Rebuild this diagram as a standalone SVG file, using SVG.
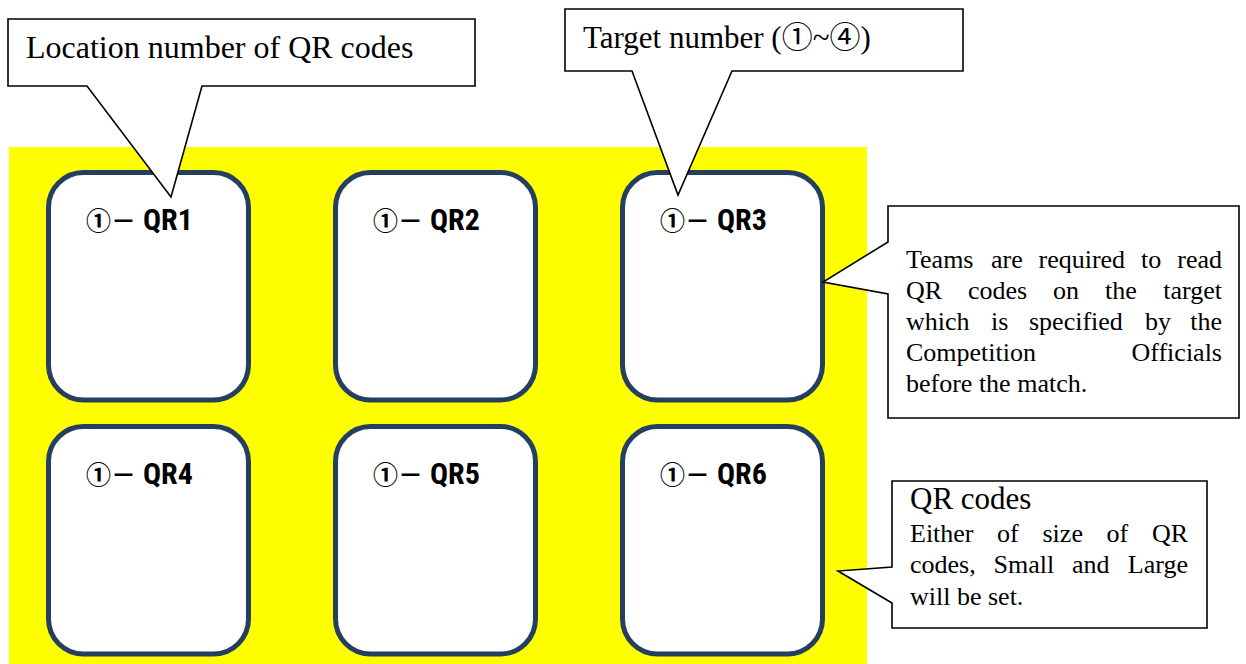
<svg xmlns="http://www.w3.org/2000/svg" width="1246" height="664" viewBox="0 0 1246 664">
  <style>
    .card { fill: #ffffff; stroke: #243f60; stroke-width: 5; }
    .tag { font-weight: 700; fill: #000000; }
    .callout { fill: #ffffff; stroke: #000000; stroke-width: 1.6; stroke-linejoin: miter; }
    .note { font-size: 26px; fill: #000000; }
    .head { fill: #000000; }
    .end { text-anchor: end; }
  </style>

  <rect x="9" y="147" width="858" height="517" fill="#ffff00"/>

  <!-- QR card targets -->
  <g font-family="'Roboto Condensed', 'Noto Sans CJK JP', sans-serif">
    <g id="qr1">
      <rect class="card" x="48.5" y="172.5" width="200" height="227.5" rx="35"/>
      <text class="tag" x="86" y="230"><tspan font-size="25">①－</tspan><tspan x="143" font-size="30">QR1</tspan></text>
    </g>
    <g id="qr2">
      <rect class="card" x="335.5" y="172.5" width="200" height="227.5" rx="35"/>
      <text class="tag" x="373" y="230"><tspan font-size="25">①－</tspan><tspan x="430" font-size="30">QR2</tspan></text>
    </g>
    <g id="qr3">
      <rect class="card" x="622.5" y="172.5" width="200" height="227.5" rx="35"/>
      <text class="tag" x="660" y="230"><tspan font-size="25">①－</tspan><tspan x="717" font-size="30">QR3</tspan></text>
    </g>
    <g id="qr4">
      <rect class="card" x="48.5" y="426.5" width="200" height="227.5" rx="35"/>
      <text class="tag" x="86" y="484"><tspan font-size="25">①－</tspan><tspan x="143" font-size="30">QR4</tspan></text>
    </g>
    <g id="qr5">
      <rect class="card" x="335.5" y="426.5" width="200" height="227.5" rx="35"/>
      <text class="tag" x="373" y="484"><tspan font-size="25">①－</tspan><tspan x="430" font-size="30">QR5</tspan></text>
    </g>
    <g id="qr6">
      <rect class="card" x="622.5" y="426.5" width="200" height="227.5" rx="35"/>
      <text class="tag" x="660" y="484"><tspan font-size="25">①－</tspan><tspan x="717" font-size="30">QR6</tspan></text>
    </g>
  </g>

  <!-- Callout balloons with their pointer tails; body text is justified word by word -->
  <g id="connectors" font-family="'Liberation Serif', 'Noto Sans CJK JP', serif">
    <g id="callout-location">
      <polygon class="callout" points="8,19 475,19 475,86 202,86 171,197 87,86 8,86"/>
      <text class="head" x="26" y="58" font-size="32">Location number of QR codes</text>
    </g>
    <g id="callout-target">
      <polygon class="callout" points="565,9 963,9 963,71 732,71 678,195 632,71 565,71"/>
      <text class="head" x="583" y="48" font-size="31">Target number (①~④)</text>
    </g>
    <g id="callout-teams">
      <polygon class="callout" points="888,206 1239,206 1239,418 888,418 888,294 823,282 888,242"/>
      <text class="note" y="268"><tspan x="906">Teams</tspan> <tspan x="991">are</tspan> <tspan x="1038.5">required</tspan> <tspan x="1141">to</tspan> <tspan class="end" x="1222">read</tspan></text>
      <text class="note" y="299"><tspan x="906">QR</tspan> <tspan x="968">codes</tspan> <tspan x="1053">on</tspan> <tspan x="1105">the</tspan> <tspan class="end" x="1222">target</tspan></text>
      <text class="note" y="330"><tspan x="906">which</tspan> <tspan x="991">is</tspan> <tspan x="1029">specified</tspan> <tspan x="1145">by</tspan> <tspan class="end" x="1222">the</tspan></text>
      <text class="note" y="361"><tspan x="906">Competition</tspan> <tspan class="end" x="1222">Officials</tspan></text>
      <text class="note" x="906" y="392">before the match.</text>
    </g>
    <g id="callout-size">
      <polygon class="callout" points="892,481 1207,481 1207,628 892,628 892,603 838,571 892,567"/>
      <text class="head" x="910" y="509" font-size="31">QR codes</text>
      <text class="note" y="542"><tspan x="910">Either</tspan> <tspan x="997">of</tspan> <tspan x="1042.5">size</tspan> <tspan x="1106.5">of</tspan> <tspan class="end" x="1188">QR</tspan></text>
      <text class="note" y="573"><tspan x="910">codes,</tspan> <tspan x="993.5">Small</tspan> <tspan x="1072">and</tspan> <tspan class="end" x="1188">Large</tspan></text>
      <text class="note" x="910" y="605">will be set.</text>
    </g>
  </g>
</svg>
